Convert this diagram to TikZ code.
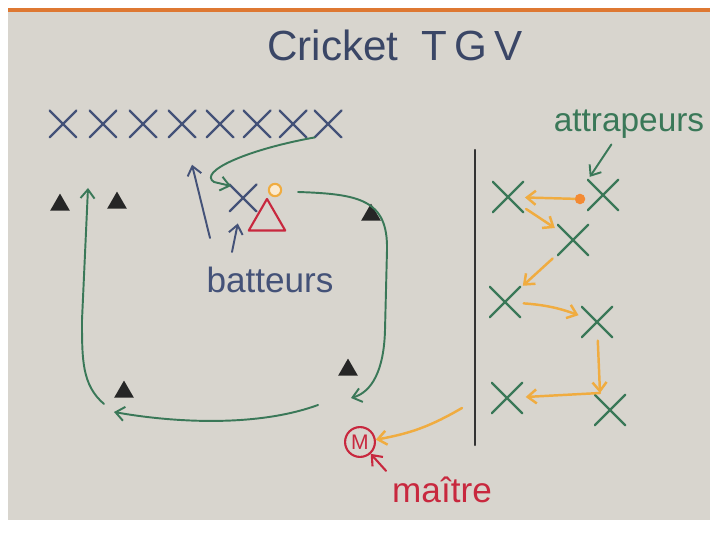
\documentclass[tikz,border=0pt]{standalone}
\usepackage{fontspec}
\setmainfont{Liberation Sans}
\usetikzlibrary{shapes.misc,shapes.geometric,arrows.meta}

\definecolor{tableau}{RGB}{216,213,206}
\definecolor{encrebleue}{RGB}{68,82,120}
\definecolor{encreverte}{RGB}{58,120,88}
\definecolor{encrerouge}{RGB}{200,40,62}
\definecolor{encreorange}{RGB}{240,172,64}
\definecolor{bordorange}{RGB}{222,120,50}

\tikzset{
  batteur/.style={
    cross out,draw=encrebleue,line width=1.3pt,
    inner sep=0pt,minimum size=14pt
  },
  attrapeur/.style={
    cross out,draw=encreverte,line width=1.3pt,
    inner sep=0pt,minimum size=16pt
  },
  plot/.style={
    regular polygon,regular polygon sides=3,
    fill=black!85,inner sep=0pt,minimum size=13pt
  },
  course/.style={
    draw=encreverte,line width=1.1pt,
    -{Straight Barb[length=5pt,width=8pt]}
  },
  passe/.style={
    draw=encreorange,line width=1.4pt,
    -{Straight Barb[length=5pt,width=8pt]}
  },
  fleche/.style={
    draw=encrebleue,line width=1.1pt,
    -{Straight Barb[length=5pt,width=8pt]}
  },
  texte/.style={font=\fontsize{20}{24}\selectfont}
}

\begin{document}
\begin{tikzpicture}[
  x=0.02cm,
  y=-0.02cm,
  line cap=round,
  line join=round
]
  \useasboundingbox (0,0) rectangle (710,533);

  % Фон: доска
  \fill[white] (0,0) rectangle (710,533);
  \fill[tableau] (8,10) rectangle (710,520);
  \fill[bordorange] (8,8) rectangle (710,12);

  % Заголовок
  \node[text=encrebleue!85!black,font=\fontsize{24}{29}\selectfont]
    (titre) at (395,45) {Cricket\ \ T\,G\,V};

  % Очередь батеров
  \foreach \x [count=\i] in {63,103,143,182,220,257,293,328}
    \node[batteur] (q\i) at (\x,124) {};

  % Батер, калитка и мяч
  \node[batteur] (b) at (243,198) {};
  \node[
    regular polygon,
    regular polygon sides=3,
    draw=encrerouge,
    line width=1.2pt,
    inner sep=0pt,
    minimum size=24pt
  ] (t) at (267,220) {};
  \node[
    circle,
    draw=encreorange,
    fill=encreorange!25,
    line width=1.2pt,
    inner sep=0pt,
    minimum size=7pt
  ] (o) at (275,190) {};

  % Конусы
  \node[plot] (p1) at (60,205) {};
  \node[plot] (p2) at (117,203) {};
  \node[plot] (p3) at (371,215) {};
  \node[plot] (p4) at (348,370) {};
  \node[plot] (p5) at (124,392) {};

  % Подписи
  \node[texte,text=encrebleue] (lb) at (270,280) {batteurs};
  \node[
    text=encreverte,
    font=\fontsize{19}{23}\selectfont
  ] (la) at (629,124) {attrapeurs};
  \node[texte,text=encrerouge] (lm) at (442,490) {maître};

  % Стрелки от подписи «batteurs»
  \coordinate (a1) at (210,238);
  \coordinate (a2) at (232,252);
  \draw[fleche,shorten >=16pt] (a1) -- (q4);
  \draw[fleche,shorten >=7pt] (a2) -- (b);

  % Переход батера из очереди
  \coordinate (r1) at (231,186);
  \draw[course]
    (q8.south west)
    .. controls (245,150) and (198,172) ..
    (214,182) -- (r1);

  % Пробежка вокруг конусов
  \coordinate (g1) at (298,192);
  \coordinate (g2) at (351,398);
  \coordinate (g3) at (318,405);
  \coordinate (g4) at (114,412);
  \coordinate (g5) at (104,404);
  \coordinate (g6) at (88,188);

  \draw[course]
    (g1)
    .. controls (360,194) and (388,200) ..
    (387,250)
    -- (385,330)
    .. controls (384,370) and (372,392) ..
    (g2);

  \draw[course]
    (g3)
    .. controls (255,428) and (170,422) ..
    (g4);

  \draw[course]
    (g5)
    .. controls (82,385) and (82,360) ..
    (82,320)
    -- (g6);

  % Разделительная линия
  \coordinate (v1) at (475,150);
  \coordinate (v2) at (475,445);
  \draw[line width=1.3pt,black!80] (v1) -- (v2);

  % Ловцы
  \node[attrapeur] (c1) at (508,197) {};
  \node[attrapeur] (c2) at (603,195) {};
  \node[attrapeur] (c3) at (573,240) {};
  \node[attrapeur] (c4) at (505,302) {};
  \node[attrapeur] (c5) at (597,322) {};
  \node[attrapeur] (c6) at (507,398) {};
  \node[attrapeur] (c7) at (610,410) {};

  \draw[course,shorten >=2pt]
    ([xshift=-10pt]la.south) -- (c2.north west);

  % Мяч и передачи
  \node[
    circle,
    fill=encreorange!80!red,
    inner sep=0pt,
    minimum size=6pt
  ] (ball) at (580,199) {};

  \coordinate (k1) at (600,393);
  \coordinate (k2) at (462,408);

  \draw[passe,shorten >=1pt] (ball) -- (c1);
  \draw[passe,shorten >=2pt,shorten <=2pt] (c1) -- (c3);
  \draw[passe,shorten >=2pt,shorten <=4pt] (c3) -- (c4);
  \draw[passe,shorten >=2pt,shorten <=2pt]
    (c4) to[bend left=8] (c5);
  \draw[passe,shorten <=2pt] (c5) -- (k1);
  \draw[passe,shorten >=2pt] (k1) -- (c6);

  % Ведущий
  \node[
    circle,
    draw=encrerouge,
    line width=1.2pt,
    text=encrerouge,
    inner sep=1pt,
    minimum size=17pt,
    font=\fontsize{12}{14}\selectfont
  ] (m) at (360,442) {M};

  \draw[passe] (k2) to[bend left=10] (m);
  \draw[
    draw=encrerouge,
    line width=1.2pt,
    -{Straight Barb[length=5pt,width=8pt]}
  ] (lm.north west) -- (m);
\end{tikzpicture}
\end{document}
